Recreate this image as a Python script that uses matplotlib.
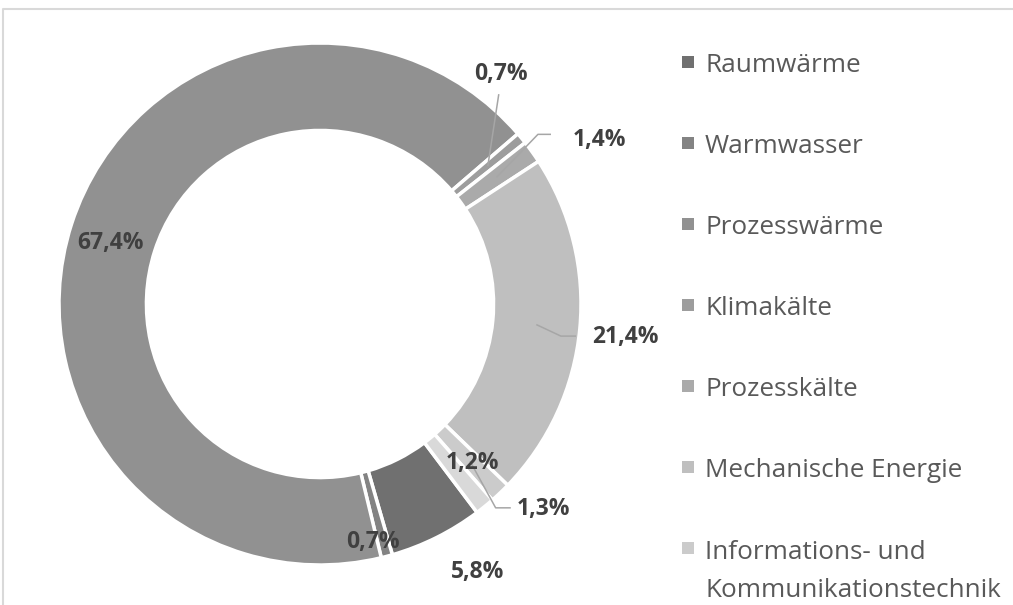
import numpy as np
import matplotlib
matplotlib.use('Agg')
import matplotlib.pyplot as plt
from matplotlib.lines import Line2D
from matplotlib.patches import Rectangle

plt.rcParams['font.family'] = ['Open Sans', 'Noto Sans', 'DejaVu Sans']

# data
categories = ['Raumwärme', 'Warmwasser', 'Prozesswärme', 'Klimakälte', 'Prozesskälte',
              'Mechanische Energie', 'Informations- und\nKommunikationstechnik', 'Beleuchtung']
shares = [5.8, 0.7, 67.4, 0.7, 1.4, 21.4, 1.3, 1.2]
colors = ['#707070', '#838383', '#919191', '#9d9d9d', '#aaaaaa', '#bfbfbf', '#cbcbcb', '#d9d9d9']

# label layout (data units, ring radius = 1), leader end/elbow or None
label_pos = [(0.604, -1.027), (0.204, -0.912), (-0.804, 0.235), (0.692, 0.881),
             (1.07, 0.627), (1.17, -0.127), (0.856, -0.785), (0.585, -0.608)]
leaders = [None, None, None,
           [(0.685, 0.804)],
           [(0.835, 0.650), (0.885, 0.650)],
           [(0.923, -0.123), (0.981, -0.123)],
           [(0.673, -0.781), (0.731, -0.781)],
           None]

W, H = 1013, 605
cx, cy, R = 320, 304, 261
ring = 0.335

fig = plt.figure(figsize=(W / 100, H / 100), dpi=100)
ax = fig.add_axes([0, 0, 1, 1])
wedges, _ = ax.pie(shares, colors=colors, startangle=-53, counterclock=False, radius=1,
                   wedgeprops=dict(width=ring, edgecolor='white', linewidth=2.5))
ax.set_xlim(-cx / R, (W - cx) / R)
ax.set_ylim(-(H - cy) / R, cy / R)
ax.axis('off')

for i, w in enumerate(wedges):
    txt = ('%.1f%%' % shares[i]).replace('.', ',')
    x, y = label_pos[i]
    ax.text(x, y, txt, ha='center', va='center', fontsize=16.5, fontweight='bold', color='#404040')
    if leaders[i] is not None:
        mid = np.deg2rad((w.theta1 + w.theta2) / 2)
        r = 1 - ring / 2
        pts = [(r * np.cos(mid), r * np.sin(mid))] + leaders[i]
        xs, ys = zip(*pts)
        ax.plot(xs, ys, color='#a6a6a6', lw=1.1, solid_capstyle='butt')

# legend (the chart is cropped, only the entries that fit are visible)
for i, name in enumerate(categories):
    yc = 62 + i * 81
    if yc > H:
        break
    nlines = name.count('\n')
    fig.add_artist(Rectangle((682 / W, 1 - (yc + 6) / H), 12 / W, 12 / H,
                             transform=fig.transFigure, facecolor=colors[i], edgecolor='none'))
    fig.text(705 / W, 1 - (yc + 10 + nlines * 39) / H, name, fontsize=18.8, color='#595959',
             va='baseline', ha='left', linespacing=1.68)

# chart frame
fig.add_artist(Line2D([2.5 / W, 2.5 / W, 1], [0, 1 - 8.5 / H, 1 - 8.5 / H],
                      transform=fig.transFigure, color='#d9d9d9', lw=1.5))

fig.savefig('out.png', dpi=100)
